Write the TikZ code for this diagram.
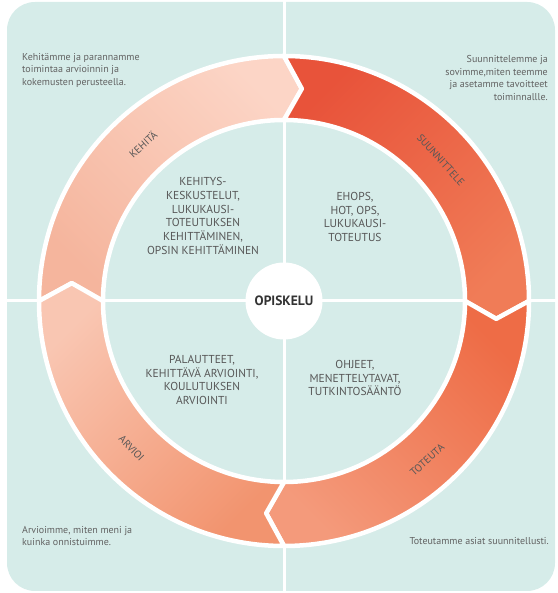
\documentclass[tikz,border=0pt]{standalone}
\usepackage{fontspec}
\setmainfont{PT Sans}
\definecolor{bgteal}{HTML}{D6ECE9}
\definecolor{txtgray}{HTML}{575757}
\definecolor{desgray}{HTML}{626262}
\definecolor{kA}{HTML}{F5B59D}
\definecolor{kB}{HTML}{FCD5C6}
\definecolor{sA}{HTML}{E8533A}
\definecolor{sB}{HTML}{F07C57}
\definecolor{tA}{HTML}{EE6C46}
\definecolor{tB}{HTML}{F49A7B}
\definecolor{aA}{HTML}{F9C6B2}
\definecolor{aB}{HTML}{F2946F}
\tikzset{
  segbox/.style={draw=white, line width=4.5pt, line join=round},
  ringlabel/.style={font=\fontsize{10.5}{11}\selectfont, text=txtgray, inner sep=0pt},
  centerlabel/.style={font=\fontsize{11.5}{13.7}\selectfont, text=txtgray, align=center, inner sep=0pt},
  desclabel/.style={font=\fontsize{10}{12.5}\selectfont, text=desgray, inner sep=0pt},
}
\newcommand{\ringseg}[3]{% start angle, end angle, style
  \path[segbox,#3] (#1:245) arc[start angle=#1, end angle=#2, radius=245]
    -- ({#2-4.8}:213) -- (#2:181)
    arc[start angle=#2, end angle=#1, radius=181]
    -- ({#1-4.8}:213) -- cycle;
}
\begin{document}
\begin{tikzpicture}[x=1pt,y=1pt]
\useasboundingbox (0,0) rectangle (557,593);
\fill[bgteal, rounded corners=28pt] (7,2) rectangle (555,591);
\coordinate (C) at (284,292);
\draw[white, line width=3pt] (284,0) -- (284,593);
\draw[white, line width=3pt] (0,292) -- (557,292);
\begin{scope}[shift={(C)}]
  \ringseg{180}{90}{top color=kB, bottom color=kA, shading angle=-45}
  \ringseg{90}{0}{top color=sA, bottom color=sB, shading angle=45}
  \ringseg{0}{-90}{top color=tA, bottom color=tB, shading angle=-45}
  \ringseg{270}{180}{top color=aB, bottom color=aA, shading angle=-135}
  \node[ringlabel, rotate=42] (kehita) at (132:211) {KEHITÄ};
  \node[ringlabel, rotate=-48] (suunnittele) at (42:211) {SUUNNITTELE};
  \node[ringlabel, rotate=42] (toteuta) at (-48:214) {TOTEUTA};
  \node[ringlabel, rotate=-46] (arvioi) at (-136:212) {ARVIOI};
\end{scope}
\node[circle, fill=white, minimum size=77pt, inner sep=0pt,
      font=\fontsize{13.5}{15}\selectfont\bfseries, text=black!80] (opiskelu) at (C) {OPISKELU};
\node[centerlabel] (tl) at (203,377) {KEHITYS-\\KESKUSTELUT,\\LUKUKAUSI-\\TOTEUTUKSEN\\KEHITTÄMINEN,\\OPSIN KEHITTÄMINEN};
\node[centerlabel] (tr) at (355,376) {EHOPS,\\HOT, OPS,\\LUKUKAUSI-\\TOTEUTUS};
\node[centerlabel] (bl) at (202,213) {PALAUTTEET,\\KEHITTÄVÄ ARVIOINTI,\\KOULUTUKSEN\\ARVIOINTI};
\node[centerlabel] (br) at (355,215) {OHJEET,\\MENETTELYTAVAT,\\TUTKINTOSÄÄNTÖ};
\node[desclabel, anchor=west, align=left] (dtl) at (22,523) {Kehitämme ja parannamme\\toimintaa arvioinnin ja\\kokemusten perusteella.};
\node[desclabel, anchor=east, align=right] (dtr) at (548,515) {Suunnittelemme ja\\sovimme,miten teemme\\ja asetamme tavoitteet\\toiminnallle.};
\node[desclabel, anchor=west, align=left] (dbl) at (22,57) {Arvioimme, miten meni ja\\kuinka onnistuimme.};
\node[desclabel, anchor=east, align=right] (dbr) at (549,52) {Toteutamme asiat suunnitellusti.};
\end{tikzpicture}
\end{document}
